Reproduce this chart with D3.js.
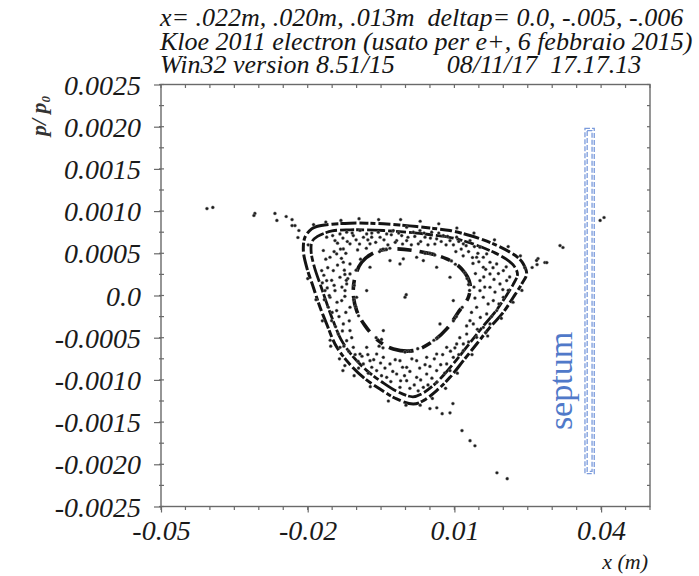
<!DOCTYPE html>
<html>
<head>
<meta charset="utf-8">
<script src="https://cdn.jsdelivr.net/npm/d3@7"></script>
<style>
  body { margin: 0; background: #fff; }
  text { font-family: "Liberation Serif", "Times New Roman", serif; }
</style>
</head>
<body>
<svg id="chart" width="699" height="576"></svg>
<script>
// ---- header and axes text ----
const headerLines = [
  "x= .022m, .020m, .013m  deltap= 0.0, -.005, -.006",
  "Kloe 2011 electron (usato per e+, 6 febbraio 2015)",
  "Win32 version 8.51/15        08/11/17  17.17.13"
];
const xTickValues = [-0.05, -0.02, 0.01, 0.04];
const xTickLabels = ["-0.05", "-0.02", "0.01", "0.04"];
const yTickValues = [0.0025, 0.002, 0.0015, 0.001, 0.0005, 0, -0.0005, -0.001, -0.0015, -0.002, -0.0025];
const yTickLabels = ["0.0025", "0.0020", "0.0015", "0.0010", "0.0005", "0.0",
                     "-0.0005", "-0.0010", "-0.0015", "-0.0020", "-0.0025"];
const xLabel = "x (m)";
const septumLabel = "septum";

// ---- tracking data: x in mm, p/p0 in units of 1e-3 ----
// outer band, outer strand
const ringOuter = [
  [-19.19,0.789],[-18.17,0.817],[-15.0,0.845],[-11.35,0.857],[-8.0,0.857],[-4.53,0.849],
  [-1.2,0.835],[2.28,0.817],[5.7,0.795],[9.1,0.77],[12.6,0.72],[15.92,0.659],[19.0,0.585],
  [21.37,0.513],[23.2,0.44],[24.1,0.374],[24.78,0.256],[23.76,0.137],[22.05,-0.021],
  [20.0,-0.199],[17.28,-0.377],[14.55,-0.574],[11.83,-0.772],[9.1,-0.97],[6.37,-1.127],
  [3.65,-1.246],[1.6,-1.286],[-1.81,-1.226],[-5.22,-1.108],[-8.62,-0.97],[-12.03,-0.772],
  [-14.42,-0.574],[-16.12,-0.337],[-17.48,-0.139],[-18.85,0.098],[-20.21,0.335],
  [-20.89,0.533],[-20.55,0.691]
];
// outer band, inner strand
const ringInner = [
  [-18.0,0.70],[-15.0,0.765],[-11.3,0.778],[-8.0,0.778],[-4.5,0.77],[-1.2,0.757],[2.3,0.74],
  [5.7,0.716],[9.0,0.69],[12.3,0.64],[15.4,0.577],[18.3,0.505],[20.6,0.43],[22.2,0.35],
  [22.9,0.25],[22.0,0.13],[20.4,-0.02],[18.4,-0.19],[15.8,-0.37],[13.2,-0.56],[10.6,-0.75],
  [8.0,-0.93],[5.6,-1.07],[3.3,-1.165],[1.5,-1.2],[-1.6,-1.14],[-4.8,-1.025],[-7.9,-0.89],
  [-11.0,-0.705],[-13.2,-0.52],[-14.8,-0.3],[-16.0,-0.11],[-17.3,0.11],[-18.6,0.33],
  [-19.3,0.52],[-19.1,0.64]
];
// island chain around the closed orbit
const ringIslands = [
  [-2.49,0.552],[3.65,0.513],[8.42,0.434],[11.49,0.315],[13.19,0.137],[12.85,-0.021],
  [10.8,-0.199],[8.42,-0.396],[5.35,-0.554],[1.6,-0.653],[-2.49,-0.633],[-5.56,-0.535],
  [-8.28,-0.357],[-9.99,-0.179],[-10.67,0.019],[-10.33,0.216],[-8.96,0.394],[-6.24,0.513]
];
const closedOrbit = [[-0.1,-0.02],[0.15,0.01]];
const tailTopLeft = [
  [-40.6,1.03],[-39.4,1.043],[-30.8,0.972],[-31.0,0.948],[-26.7,0.972],[-26.3,0.889],
  [-24.4,0.936],[-23.2,0.90],[-22.6,0.829],[-23.2,0.829],[-22.0,0.687],[-21.8,0.77]
];
const tailRight = [
  [39.8,0.889],[40.6,0.924],[31.6,0.592],[32.2,0.569],[27.1,0.438],[28.5,0.391],
  [25.9,0.332],[26.9,0.367],[26.8,0.415],[28.9,0.39]
];
const tailBottom = [
  [11.55,-1.6],[13.2,-1.72],[14.2,-1.78],[18.7,-2.1],[20.8,-2.17],[6.4,-1.33],[9.1,-1.39],
  [7.5,-1.40],[5.0,-1.34],[9.7,-1.28],[-12.8,-0.889],[-12.4,-0.83],[-15.4,-0.53]
];
const bandTop = [
  [-16.12,0.691],[-14.42,0.651],[-13.4,0.73],[-12.03,0.75],[-10.67,0.71],[-9.3,0.77],
  [-7.94,0.73],[-6.92,0.691],[-5.56,0.75],[-3.85,0.73],[-2.49,0.77],[-0.78,0.71],[0.24,0.809],
  [1.6,0.75],[2.96,0.77],[3.99,0.691],[5.35,0.75],[6.37,0.671],[7.74,0.71],[9.1,0.651],
  [10.46,0.691],[11.83,0.612],[13.19,0.651],[15.23,0.572],[16.6,0.493],[2.62,0.612],
  [0.24,0.651],[-1.81,0.651],[-7.26,0.612],[-11.35,0.612],[-12.71,0.552],[2.28,0.453],
  [3.65,0.414],[-0.44,0.434],[15.92,0.453],[17.28,0.394],
  [-14.9,0.71],[-13.9,0.62],[-12.8,0.68],[-11.9,0.64],[-10.9,0.74],[-10.1,0.66],[-9.4,0.61],
  [-8.6,0.69],[-7.7,0.66],[-6.9,0.74],[-6.1,0.63],[-5.2,0.69],[-4.4,0.66],[-3.6,0.6],
  [-2.9,0.72],[-2.1,0.63],[-1.4,0.74],[-0.6,0.61],[0.5,0.69],[1.2,0.6],[1.9,0.7],[3.1,0.64],
  [3.8,0.74],[4.6,0.6],[5.1,0.68],[6.0,0.61],[6.8,0.74],[7.3,0.64],[8.3,0.6],[8.6,0.7],
  [9.8,0.6],[10.9,0.64],[11.4,0.55],[12.4,0.59],[12.9,0.52],[14.1,0.58],[14.8,0.5],
  [13.7,0.45],[11.8,0.47],[10.3,0.52],[-12.2,0.5],[-13.1,0.44],[-9.8,0.54],[-8.0,0.56]
];
const bandLeft = [
  [-16.8,0.533],[-15.44,0.453],[-14.08,0.493],[-12.71,0.394],[-11.35,0.374],[-14.76,0.295],
  [-13.4,0.216],[-16.12,0.177],[-12.03,0.137],[-14.42,0.058],[-15.44,-0.021],[-13.05,-0.06],
  [-11.35,-0.139],[-14.08,-0.179],[-15.1,-0.298],[-12.71,-0.337],[-11.35,-0.416],
  [-13.74,-0.456],[-12.03,-0.535],[-13.4,-0.614],[-10.67,-0.614],[-9.3,-0.693],
  [-15.78,-0.139],[-16.46,0.058],[-17.14,0.295],[-11.35,0.256],[-9.99,-0.021],[-12.37,0.058],
  [-16.3,0.43],[-15.9,0.33],[-16.7,0.24],[-15.1,0.18],[-16.0,0.09],[-14.6,0.12],[-13.9,0.36],
  [-12.5,0.3],[-11.8,0.2],[-13.0,0.1],[-12.4,-0.01],[-14.0,-0.08],[-15.0,-0.2],[-13.6,-0.25],
  [-12.2,-0.2],[-11.5,-0.3],[-14.3,-0.37],[-12.9,-0.42],[-11.0,-0.5],[-12.6,-0.6],
  [-11.6,-0.66],[-10.3,-0.7],[-9.7,-0.78],[-16.6,-0.05],[-17.0,0.15],[-15.6,0.0],
  [-13.3,0.55],[-14.6,0.52]
];
const bandBottom = [
  [-7.94,-0.614],[-5.9,-0.693],[-7.26,-0.772],[-4.53,-0.732],[-3.17,-0.811],[-1.13,-0.772],
  [0.24,-0.851],[2.28,-0.772],[4.33,-0.732],[6.37,-0.693],[8.42,-0.614],[10.46,-0.574],
  [-5.9,-0.89],[-3.85,-0.969],[-1.81,-0.93],[0.24,-1.009],[2.28,-0.969],[4.33,-0.93],
  [6.37,-0.89],[8.42,-0.811],[9.78,-0.732],[11.83,-0.653],[-8.62,-0.811],[-1.13,-1.088],
  [3.65,-1.088],[6.37,-1.029],[9.1,-0.89],
  [-8.9,-0.72],[-7.7,-0.7],[-6.5,-0.76],[-6.9,-0.85],[-5.1,-0.8],[-4.2,-0.86],[-4.9,-0.95],
  [-2.6,-0.9],[-2.1,-0.76],[-0.6,-0.85],[-0.2,-0.95],[0.9,-0.9],[1.3,-0.75],[1.8,-1.06],
  [2.9,-0.86],[3.1,-1.0],[4.0,-0.82],[5.0,-0.84],[5.4,-0.98],[5.9,-0.75],[7.2,-0.82],
  [7.6,-0.7],[8.0,-0.92],[9.2,-0.66],[10.1,-0.62],[10.9,-0.7],[-3.0,-1.02],[-1.0,-1.01],
  [0.9,-1.1],[2.6,-1.13],[4.6,-1.06],[-7.6,-0.92],[-9.6,-0.86]
];
const bandRight = [
  [14.55,0.453],[15.92,0.335],[17.28,0.256],[18.64,0.374],[20.01,0.295],[15.23,0.177],
  [17.28,0.098],[19.32,0.137],[20.69,0.177],[15.92,-0.021],[17.96,-0.06],[14.55,-0.139],
  [16.6,-0.218],[18.64,-0.179],[13.87,-0.337],[15.92,-0.377],[12.51,-0.456],[14.55,-0.495],
  [11.83,-0.574],[20.01,-0.021],[15.23,0.058],[13.19,-0.298],[17.28,-0.337],
  [13.8,0.38],[15.0,0.4],[16.4,0.31],[17.9,0.33],[19.0,0.26],[20.6,0.34],[14.3,0.26],
  [16.0,0.22],[18.1,0.19],[21.3,0.22],[14.0,0.1],[16.2,0.1],[18.3,0.04],[19.9,0.07],
  [21.0,0.06],[14.2,-0.03],[16.9,-0.1],[19.1,-0.1],[13.5,-0.2],[15.3,-0.26],[17.6,-0.25],
  [12.5,-0.36],[14.7,-0.4],[16.4,-0.44],[12.9,-0.55],[11.1,-0.5]
];
// turns that land just around the outer band
const bandEdge = [
  [-19.9,0.6],[-20.0,0.2],[-18.3,-0.05],[-17.0,-0.3],[-15.3,-0.6],[-13.5,-0.75],[-10.5,-0.95],
  [-7.2,-1.08],[-3.5,-1.25],[0.1,-1.3],[3.0,-1.3],[5.5,-1.22],[8.2,-1.1],[10.6,-0.92],
  [13.6,-0.7],[16.8,-0.48],[19.6,-0.27],[22.0,-0.08],[23.8,0.06],[24.4,0.33],[23.5,0.47],
  [21.0,0.58],[18.2,0.66],[14.0,0.74],[10.5,0.8],[6.8,0.85],[3.0,0.88],[-1.0,0.9],
  [-5.5,0.9],[-9.5,0.91],[-13.2,0.89],[-16.3,0.87],[-18.8,0.84]
];
// turns clustered on the islands
const islandClumps = [
  [-5.3,0.52],[-4.6,0.55],[-3.9,0.545],[-3.2,0.56],[4.0,0.5],[5.0,0.5],[6.0,0.48],[9.4,0.41],
  [10.2,0.37],[12.1,0.27],[12.6,0.2],[12.9,0.13],[13.1,0.06],[11.6,-0.14],[10.4,-0.25],
  [9.8,-0.3],[6.5,-0.5],[5.8,-0.53],[2.5,-0.63],[0.8,-0.66],[-0.1,-0.67],[-4.9,-0.52],
  [-5.4,-0.6],[-4.6,-0.62],[-6.0,-0.5],[-9.6,-0.24],[-10.2,-0.13],[-10.6,-0.05],
  [-10.5,0.12],[-10.1,0.3],[-9.2,0.43],[-12.4,0.25],[-12.1,0.18]
];
const coreScatter = [
  [-3.17,0.414],[-1.13,0.374],[-7.26,0.335],[6.37,0.335],[9.1,0.216],[9.78,-0.06],
  [-4.53,-0.416],[-7.94,0.058],[7.05,-0.337]
];
// septum position (m) and vertical extent (p/p0)
const septumX = [0.0367, 0.0386];
const septumY = [0.00198, -0.00211];

// ---- scales ----
const svg = d3.select("#chart");
const x = d3.scaleLinear().domain([-0.05, 0.05]).range([161, 650]);
const y = d3.scaleLinear().domain([-0.0025, 0.0025]).range([506.5, 84.5]);
const toM = d => [d[0] / 1000, d[1] / 1000];

// ---- header ----
svg.append("g").selectAll("text").data(headerLines).join("text")
  .attr("x", 160).attr("y", (d, i) => 26 + i * 23.5)
  .attr("font-size", 26).attr("font-style", "italic").attr("fill", "#151515")
  .style("white-space", "pre")
  .text(d => d);

// ---- frame and ticks ----
const frameColor = "#6a6a6a";
svg.append("rect")
  .attr("x", x(-0.05)).attr("y", y(0.0025))
  .attr("width", x(0.05) - x(-0.05)).attr("height", y(-0.0025) - y(0.0025))
  .attr("fill", "none").attr("stroke", frameColor).attr("stroke-width", 1.4);

const xMinor = d3.range(-50, 50.1, 5).map(v => v / 1000);
const yMinor = d3.range(-10, 10.1, 1).map(v => v * 0.00025);
const tickG = svg.append("g").attr("stroke", frameColor).attr("stroke-width", 1.2);
tickG.selectAll(".xb").data(xMinor).join("line")
  .attr("x1", d => x(d)).attr("x2", d => x(d))
  .attr("y1", y(-0.0025)).attr("y2", y(-0.0025) + 3.5);
tickG.selectAll(".xt").data(xMinor).join("line")
  .attr("x1", d => x(d)).attr("x2", d => x(d))
  .attr("y1", y(0.0025)).attr("y2", y(0.0025) + 3.5);
tickG.selectAll(".yl").data(yMinor).join("line")
  .attr("y1", d => y(d)).attr("y2", d => y(d))
  .attr("x1", x(-0.05) - 2).attr("x2", x(-0.05) + 3);
tickG.selectAll(".yr").data(yMinor).join("line")
  .attr("y1", d => y(d)).attr("y2", d => y(d))
  .attr("x1", x(0.05) - 3).attr("x2", x(0.05));

// labelled axes
const xAxis = d3.axisBottom(x).tickValues(xTickValues)
  .tickFormat((d, i) => xTickLabels[i]).tickSize(6).tickPadding(5);
const gx = svg.append("g").attr("transform", `translate(0,${y(-0.0025)})`).call(xAxis);
const yAxis = d3.axisLeft(y).tickValues(yTickValues)
  .tickFormat((d, i) => yTickLabels[i]).tickSize(7).tickPadding(13);
const gy = svg.append("g").attr("transform", `translate(${x(-0.05)},0)`).call(yAxis);
[gx, gy].forEach(g => {
  g.select(".domain").remove();
  g.selectAll(".tick line").attr("stroke", frameColor).attr("stroke-width", 1.2);
  g.selectAll(".tick text")
    .attr("font-family", "Liberation Serif").attr("font-style", "italic")
    .attr("font-size", 28).attr("fill", "#1a1a1a");
});
gx.selectAll(".tick text").attr("dy", "0.8em");
gy.selectAll(".tick text").attr("dy", "0.34em");

// axis titles
svg.append("text").attr("x", 648).attr("y", 569).attr("text-anchor", "end")
  .attr("font-size", 22).attr("font-style", "italic").attr("fill", "#1a1a1a").text(xLabel);
const yt = svg.append("text").attr("transform", "translate(46,116) rotate(-90)")
  .attr("text-anchor", "middle").attr("font-size", 22).attr("font-style", "italic")
  .attr("font-weight", "bold").attr("fill", "#333");
yt.append("tspan").text("p/ p");
yt.append("tspan").attr("font-size", 13).attr("dy", 4).text("0");

// ---- septum ----
const sep = svg.append("g").attr("fill", "none").attr("stroke", "#7b9bdc")
  .attr("stroke-width", 1.3).attr("stroke-dasharray", "5 2");
sep.append("rect")
  .attr("x", x(septumX[0])).attr("y", y(septumY[0]))
  .attr("width", x(septumX[1]) - x(septumX[0])).attr("height", y(septumY[1]) - y(septumY[0]));
sep.append("rect")
  .attr("x", x(septumX[0]) + 2.2).attr("y", y(septumY[0]) + 2.2)
  .attr("width", x(septumX[1]) - x(septumX[0]) - 4.4).attr("height", y(septumY[1]) - y(septumY[0]) - 4.4);
svg.append("text").attr("transform", "translate(572,381) rotate(-90)")
  .attr("text-anchor", "middle").attr("font-size", 34).attr("fill", "#5079c9")
  .text(septumLabel);

// ---- tracking turns ----
const line = d3.line().x(d => x(d[0])).y(d => y(d[1])).curve(d3.curveCatmullRomClosed);
const rings = [
  { pts: ringOuter, dash: "12 3 7 2 16 3 9 2 5 3", w: 3.0, off: 0 },
  { pts: ringInner, dash: "10 3 14 2 8 3 18 3 6 2", w: 2.8, off: 5 },
  { pts: ringIslands, dash: "18 6 10 9 25 7 8 10 14 8", w: 3.6, off: 6 }
];
svg.append("g").selectAll("path").data(rings).join("path")
  .attr("d", r => line(r.pts.map(toM)))
  .attr("fill", "none").attr("stroke", "#141414")
  .attr("stroke-width", r => r.w).attr("stroke-dasharray", r => r.dash)
  .attr("stroke-dashoffset", r => r.off);

const scatter = [].concat(closedOrbit, tailTopLeft, tailRight, tailBottom,
  bandTop, bandLeft, bandBottom, bandRight, bandEdge, islandClumps, coreScatter).map(toM);
svg.append("g").selectAll("circle").data(scatter).join("circle")
  .attr("cx", d => x(d[0])).attr("cy", d => y(d[1])).attr("r", 1.6)
  .attr("fill", "#1c1c1c").attr("stroke", "#9a9a9a").attr("stroke-width", 0.6)
  .attr("stroke-opacity", 0.6);
</script>
</body>
</html>
